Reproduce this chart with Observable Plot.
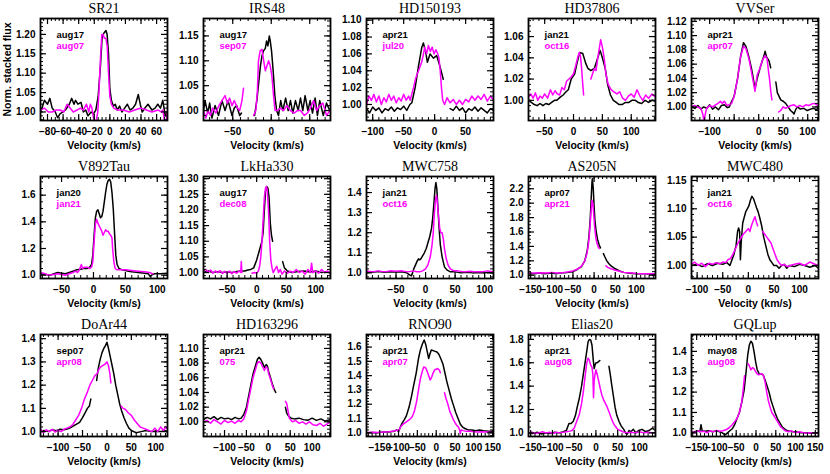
<!DOCTYPE html>
<html><head><meta charset="utf-8">
<script src="https://cdn.jsdelivr.net/npm/d3@7"></script>
<script src="https://cdn.jsdelivr.net/npm/@observablehq/plot@0.6"></script>
<style>
body{margin:0;background:#fff;}
#wrap{position:relative;width:830px;height:474px;overflow:hidden;background:#fff;}
#wrap svg{position:absolute;}
</style></head><body><div id="wrap"></div>
<script>
// ---------- data ----------
const names = ["SR21","IRS48","HD150193","HD37806","VVSer","V892Tau","LkHa330","MWC758","AS205N","MWC480","DoAr44","HD163296","RNO90","Elias20","GQLup"];
const epochBlack   = ["aug17","aug17","apr21","jan21","apr21","jan20","aug17","jan21","apr07","jan21","sep07","apr21","apr21","apr21","may08"];
const epochMagenta = ["aug07","sep07","jul20","oct16","apr07","jan21","dec08","oct16","apr21","oct16","apr08","075","apr07","aug08","aug08"];

const xDomains = [[-89,74],[-88,77],[-110,95],[-78,142],[-137,122],[-83,116],[-90,125],[-100,115],[-155,145],[-111,137],[-136,124],[-148,142],[-185,152],[-155,137],[-163,158]];
const yDomains = [[0.978,1.241],[0.98,1.185],[0.981,1.102],[0.981,1.077],[0.981,1.124],[0.975,1.74],[0.981,1.307],[0.972,1.48],[0.955,2.37],[0.977,1.157],[0.979,1.418],[0.98,1.119],[0.974,1.688],[0.969,1.842],[0.982,1.483]];

const xTicksA = [-80,-60,-40,-20,0,20,40,60];
const xTicksB = [-50,0,50];
const xTicksC = [-100,-50,0,50];
const xTicksD = [-50,0,50,100];
const xTicksE = [-100,-50,0,50,100];
const xTicksF = [-150,-100,-50,0,50,100];
const xTicksG = [-150,-100,-50,0,50,100,150];
const xLabelsVV = [-100,0,50,100];

const yt005 = ["1.00","1.05","1.10","1.15","1.20"];
const yt005b = ["1.00","1.05","1.10","1.15"];
const yt002 = ["1.00","1.02","1.04","1.06","1.08","1.10"];
const yt002b = ["1.00","1.02","1.04","1.06"];
const yt002c = ["1.00","1.02","1.04","1.06","1.08","1.10","1.12"];
const yt02 = ["1.0","1.2","1.4","1.6"];
const yt005c = ["1.00","1.05","1.10","1.15","1.20","1.25","1.30"];
const yt01 = ["1.0","1.1","1.2","1.3","1.4"];
const yt02b = ["1.0","1.2","1.4","1.6","1.8","2.0","2.2"];
const yt01b = ["1.0","1.1","1.2","1.3","1.4","1.5","1.6"];
const yt02c = ["1.0","1.2","1.4","1.6","1.8"];

// spectra: [velocity km/s, normalized flux]; null = gap
const SR21_k = [[-89,1.0],[-87,1.01],[-84,1.03],[-80,1.02],[-77,1.035],[-74,1.01],[-70,1.0],[-67,0.985],[-64,0.995],[-60,1.0],[-57,1.005],[-52,1.02],[-49,1.035],[-46,1.02],[-44,1.03],[-41,1.02],[-37,1.025],[-34,1.0],[-31,1.005],[-28,0.99],[-24,1.0],[-21,0.995],[-18,1.005],[-15,1.04],[-12,1.12],[-10,1.19],[-8.5,1.2],[-7,1.205],[-5,1.21],[-3.5,1.2],[-1.7,1.15],[0,1.06],[2,1.03],[4.5,1.015],[7,1.02],[9.5,1.005],[12.5,1.015],[15.5,1.0],[19,1.01],[22.5,1.02],[26,1.005],[29.5,1.01],[33,1.02],[36.5,1.045],[39,1.02],[41.5,1.0],[45,1.01],[49,1.02],[54,1.005],[58,1.01],[61.5,1.02],[65,1.01],[68,1.03],[71,0.99],[74,1.0]];
const SR21_m = [[-89,1.005],[-84,1.01],[-79,1.0],[-74,1.0],[-69,1.005],[-64,1.005],[-59,1.0],[-55,1.02],[-51,1.01],[-47,1.0],[-42,1.005],[-38,1.01],[-34,1.005],[-30,1.02],[-27,1.0],[-25,1.02],[-23,1.01],[-21,0.985],[-18,0.97],[-15.5,1.0],[-14,1.05],[-12,1.14],[-10.3,1.2],[-8.6,1.2],[-7,1.19],[-5,1.19],[-3.4,1.17],[-1.7,1.1],[0,1.04],[2,1.02],[5,1.01],[10,1.005],[17,1.005],[25,1.0],[32,1.005],[40,1.01],[47,1.005],[54,1.0],[62,1.005],[66,1.0],[68,1.005],[70,0.98],[72,0.975],[74,1.0]];

const IRS48_k = [[-88,1.0],[-86,1.02],[-82.5,0.995],[-80,1.015],[-77,0.985],[-73,1.01],[-68.5,0.99],[-64,1.02],[-60,1.0],[-56,1.02],[-51,0.99],[-48,1.005],[-45,1.01],[-41,0.99],[-38.7,0.995],[-37,null],[-22,null],[-21.7,0.99],[-18.7,1.02],[-16,1.06],[-14,1.09],[-12,1.11],[-10,1.12],[-7.7,1.125],[-6,1.14],[-4.3,1.13],[-2.5,1.15],[-1.3,1.14],[0.4,1.12],[2.5,1.08],[4.7,1.03],[7,1.0],[9.4,0.99],[12.3,1.02],[15,1.0],[18.7,1.025],[22,1.0],[25,1.02],[28,0.995],[31.5,1.02],[35,1.0],[38,1.025],[41,1.0],[44,1.03],[47.6,1.0],[50.6,1.02],[53.6,0.995],[57,1.025],[60,0.99],[63,1.02],[67.6,0.99],[71.8,1.015],[76,1.0]];
const IRS48_m = [[-88,1.0],[-85,0.985],[-82,1.0],[-79,0.99],[-76,1.005],[-72,0.995],[-68,1.01],[-64,1.02],[-60,1.03],[-57,1.015],[-54,1.025],[-51,1.01],[-48,1.02],[-44,1.005],[-41,1.0],[-38,1.02],[-36,1.045],[-35,null],[-24,null],[-23,0.99],[-20,1.0],[-18,1.04],[-16.6,1.1],[-14.4,1.12],[-12,1.123],[-9.8,1.1],[-7.7,1.08],[-5.5,1.09],[-3.4,1.1],[-1.3,1.09],[0.8,1.07],[3,1.03],[5,1.0],[8,1.0],[12,1.005],[16,1.0],[20,1.01],[25,1.0],[30,0.995],[34,1.0],[38,1.0],[43,0.99],[47,0.995],[51,1.005],[55,1.02],[59,1.0],[63,1.01],[67,1.015],[72,0.99],[76,1.0]];

const HD150193_k = [[-110,0.995],[-105,0.99],[-100,0.997],[-95,0.993],[-90,0.996],[-85,0.99],[-80,0.995],[-75,0.993],[-70,0.997],[-65,0.992],[-60,0.996],[-55,0.994],[-50,0.998],[-45,0.993],[-40,1.0],[-36.8,1.002],[-31.5,1.02],[-26.2,1.045],[-20.7,1.068],[-18.2,1.073],[-14.4,1.062],[-11.7,1.05],[-7.4,1.06],[-2.1,1.055],[3.3,1.058],[8.6,1.045],[13.9,1.03],[14.5,null],[24,null],[25,0.995],[30,0.993],[35,0.998],[40,0.993],[45,0.996],[50,0.99],[55,0.995],[60,0.993],[65,0.997],[70,0.992],[75,0.996],[80,0.993],[85,0.99],[90,0.995],[95,0.993]];
const HD150193_m = [[-110,1.0],[-106,1.01],[-102,1.005],[-98,1.012],[-94,1.003],[-90,1.01],[-86,1.0],[-82,1.008],[-78,1.003],[-74,1.012],[-70,1.005],[-66,1.01],[-62,1.002],[-58,1.008],[-54,1.004],[-50,1.012],[-46,1.005],[-42,1.01],[-39.5,1.005],[-36,1.015],[-34,1.02],[-31,1.03],[-28.8,1.035],[-26,1.04],[-23.5,1.045],[-21,1.05],[-18,1.06],[-16,1.068],[-13,1.06],[-10,1.07],[-7,1.063],[-4,1.068],[-1,1.06],[2,1.065],[5,1.06],[7,1.055],[9,1.04],[11,1.02],[13,1.005],[16,1.0],[20,1.008],[25,1.002],[30,1.006],[35,1.0],[40,1.005],[45,1.0],[50,1.006],[55,1.003],[60,1.01],[65,1.005],[70,1.01],[75,1.006],[80,1.012],[85,1.004],[90,1.01],[95,1.005]];

const HD37806_k = [[-78,1.0],[-73,0.998],[-68,0.996],[-63,0.995],[-58,0.997],[-53,0.995],[-48,0.997],[-43,0.996],[-38,0.998],[-33,1.0],[-29,1.0],[-23,1.003],[-18,1.005],[-13,1.008],[-9,1.01],[-4,1.02],[2,1.025],[6,1.035],[10.6,1.045],[16,1.044],[21,1.035],[25,1.03],[30,1.028],[36,1.03],[42,1.04],[46,1.047],[50,1.04],[55,1.03],[59,1.015],[64,1.005],[69,1.0],[74,0.998],[79,0.996],[84,0.996],[90,0.998],[96,0.998],[101,1.0],[107,1.0],[112,0.998],[118,0.997],[124,1.0],[130,0.998],[136,1.0],[142,0.999]];
const HD37806_m = [[-78,1.003],[-74,1.006],[-70,1.002],[-66,1.007],[-62,1.0],[-58,1.004],[-54,1.002],[-50,1.006],[-45,1.002],[-40,1.01],[-36,1.005],[-32,1.009],[-28,1.006],[-24,1.005],[-20,1.012],[-16,1.01],[-12,1.018],[-8,1.02],[-4,1.022],[0,1.025],[4,1.033],[7,1.04],[10,1.045],[12,1.042],[14,1.03],[16,1.015],[17.5,1.005],[18,null],[29,null],[30,1.02],[33,1.025],[36,1.03],[39,1.028],[42,1.04],[45,1.05],[47,1.057],[50,1.05],[53,1.04],[56,1.025],[60,1.015],[65,1.01],[70,1.008],[75,1.006],[80,1.008],[85,1.002],[90,1.0],[95,1.004],[100,1.006],[105,1.003],[110,1.01],[115,1.004],[120,1.0],[125,1.005],[130,1.002],[136,1.006],[142,1.003]];

const VVSer_k = [[-137,1.0],[-130,0.998],[-124,1.002],[-118,0.997],[-112,1.0],[-106,0.998],[-100,1.003],[-94,0.997],[-88,1.0],[-82,0.996],[-76,1.002],[-70,1.003],[-64,0.999],[-60,1.0],[-57,1.005],[-50,1.015],[-43,1.04],[-37,1.07],[-31,1.09],[-26,1.085],[-20,1.07],[-15,1.055],[-11,1.04],[-7.5,1.025],[-3,1.04],[3,1.055],[7.5,1.065],[11,1.072],[13,1.078],[16,1.07],[21,1.065],[24.5,1.055],[25,null],[34,null],[35,1.035],[38,1.02],[45,1.01],[50,1.008],[55,1.005],[60,1.0],[65,0.995],[70,0.992],[72,0.99],[76,0.997],[79,1.0],[85,0.997],[92,0.998],[99,0.995],[106,0.997],[113,0.998],[118,0.996],[122,1.0]];
const VVSer_m = [[-137,1.0],[-131,1.002],[-125,1.0],[-118,0.998],[-114,0.99],[-111.5,0.98],[-109,0.99],[-106,0.998],[-100,1.002],[-94,1.0],[-88,1.003],[-83,1.005],[-78,1.008],[-74,1.005],[-70,1.008],[-65,1.002],[-60,1.003],[-55,1.005],[-50,1.015],[-43,1.04],[-37,1.07],[-31,1.085],[-26,1.082],[-20,1.068],[-15,1.05],[-11,1.035],[-7.5,1.022],[-3,1.045],[3,1.055],[7.5,1.065],[13,1.072],[17,1.068],[20,1.05],[22,1.04],[25,1.02],[27,1.01],[28,null],[40,null],[41,0.993],[45,0.995],[50,1.0],[55,0.998],[60,1.0],[66,1.002],[72,1.003],[78,1.0],[84,1.002],[90,1.0],[96,1.003],[102,1.002],[108,1.004],[114,1.005],[118,1.003],[122,1.002]];

const V892Tau_k = [[-83,1.01],[-75,1.005],[-68,1.0],[-62,1.01],[-56,1.02],[-50,1.015],[-44,1.01],[-38,1.02],[-32,1.03],[-26,1.04],[-20,1.045],[-16,1.05],[-10,1.05],[-6,1.06],[-3,1.08],[-1,1.15],[1,1.3],[3,1.43],[5,1.48],[7,1.49],[9,1.46],[11,1.43],[13,1.44],[15,1.48],[17,1.55],[19,1.62],[21,1.68],[23,1.71],[25,1.72],[27,1.7],[29,1.62],[31,1.5],[33,1.32],[35,1.15],[37,1.08],[40,1.05],[45,1.04],[50,1.035],[55,1.03],[60,1.025],[70,1.02],[80,1.015],[86,1.01],[89,0.99],[91,1.0],[95,1.01],[105,1.01],[116,1.015]];
const V892Tau_m = [[-83,1.02],[-76,1.01],[-70,1.0],[-63,1.005],[-56,1.01],[-50,1.005],[-44,1.0],[-38,1.01],[-32,1.02],[-28,1.03],[-25,1.02],[-22,1.04],[-19,1.08],[-17,1.05],[-14,1.06],[-10,1.06],[-6,1.05],[-3,1.06],[-1,1.1],[1,1.25],[3,1.38],[5,1.42],[7,1.39],[9,1.37],[11,1.35],[13,1.33],[15,1.3],[17,1.32],[19,1.34],[21,1.33],[23,1.33],[25,1.31],[27,1.3],[29,1.28],[30,1.2],[32,1.1],[34,1.05],[37,1.04],[42,1.04],[50,1.04],[60,1.035],[70,1.03],[80,1.025],[88,1.02],[93,1.01]];

const LkHa330_k = [[-90,1.0],[-82,1.005],[-74,1.0],[-66,1.003],[-58,1.0],[-50,1.002],[-42,1.0],[-34,1.003],[-26,1.005],[-20,1.005],[-15,1.008],[-10,1.01],[-5,1.015],[0,1.04],[3,1.06],[6,1.08],[9,1.1],[11,1.13],[13,1.2],[15,1.26],[17,1.275],[19,1.27],[21,1.24],[23,1.16],[25,1.12],[27,1.1],[28,null],[43,null],[44,1.035],[47,1.015],[52,1.005],[60,1.0],[70,1.003],[80,1.005],[90,1.002],[100,1.005],[110,1.0],[118,1.003],[125,1.0]];
const LkHa330_m = [[-90,1.005],[-86,1.01],[-82,1.0],[-78,1.008],[-74,0.998],[-70,1.005],[-66,1.0],[-62,1.006],[-58,0.997],[-54,1.004],[-50,0.998],[-46,1.005],[-42,0.996],[-38,1.003],[-34,0.998],[-30,1.005],[-27,1.0],[-26,1.035],[-25,1.0],[-24,null],[-9,null],[-8,0.998],[-4,1.0],[0,0.998],[3,1.005],[5,1.02],[7,1.05],[9,1.1],[11,1.17],[13,1.24],[15,1.27],[16.5,1.275],[18,1.26],[20,1.2],[22,1.1],[24,1.04],[26,1.015],[28,1.0],[31,1.01],[34,1.02],[37,1.0],[40,1.01],[43,0.995],[47,1.005],[52,0.998],[57,1.004],[62,1.0],[67,1.01],[72,1.0],[77,1.005],[82,0.995],[87,1.01],[91,1.0],[93,1.03],[95,1.0],[100,1.005],[105,0.998],[110,1.01],[115,1.0],[120,1.005],[125,0.995]];

const MWC758_k = [[-100,1.005],[-90,1.003],[-80,1.007],[-70,1.003],[-60,1.006],[-50,1.004],[-40,1.006],[-32,1.0],[-27,0.99],[-24,0.985],[-22,1.0],[-20,1.02],[-17,1.04],[-14,1.06],[-12,1.07],[-10,1.065],[-8,1.07],[-5,1.085],[-2,1.1],[1,1.12],[4,1.15],[7,1.18],[10,1.22],[12,1.27],[14,1.34],[16,1.42],[17.5,1.45],[19,1.42],[21,1.32],[23,1.22],[25,1.14],[28,1.08],[32,1.03],[36,1.015],[42,1.005],[50,1.005],[60,1.0],[70,1.003],[80,1.0],[90,1.002],[100,1.0],[108,1.003],[115,1.0]];
const MWC758_m = [[-100,1.01],[-90,1.005],[-80,1.01],[-70,1.005],[-60,1.01],[-50,1.008],[-40,1.01],[-30,1.005],[-20,1.01],[-15,1.005],[-10,1.005],[-5,1.01],[0,1.02],[4,1.04],[8,1.08],[11,1.14],[13,1.2],[15,1.3],[17,1.37],[18.5,1.385],[20,1.35],[22,1.28],[24,1.22],[26,1.2],[28,1.2],[30,1.17],[32,1.12],[35,1.07],[38,1.04],[42,1.02],[48,1.01],[55,1.01],[65,1.005],[75,1.008],[85,1.005],[95,1.005],[105,1.01],[115,1.005]];

const AS205N_k = [[-155,1.02],[-140,1.02],[-130,1.03],[-120,1.02],[-110,1.025],[-100,1.03],[-90,1.02],[-80,1.03],[-70,1.035],[-60,1.04],[-50,1.05],[-40,1.08],[-30,1.12],[-22,1.2],[-16,1.35],[-12,1.55],[-9,1.8],[-7,2.05],[-5,2.3],[-4,2.34],[-2,2.2],[0,1.95],[2,1.75],[5,1.6],[8,1.5],[12,1.42],[15,1.38],[16,null],[21,null],[22,1.3],[25,1.26],[30,1.2],[35,1.16],[40,1.13],[50,1.09],[60,1.06],[70,1.04],[80,1.03],[90,1.025],[100,1.02],[120,1.02],[145,1.015]];
const AS205N_m = [[-155,1.03],[-140,1.03],[-125,1.035],[-110,1.03],[-100,1.04],[-90,1.03],[-80,1.03],[-70,1.04],[-60,1.05],[-50,1.06],[-42,1.08],[-35,1.1],[-28,1.14],[-22,1.2],[-17,1.3],[-13,1.45],[-10,1.65],[-7,1.9],[-5,2.04],[-3,2.0],[-1,1.85],[1,1.68],[4,1.52],[7,1.44],[10,1.39],[12,1.37],[13,null],[27,null],[28,1.13],[32,1.11],[40,1.09],[50,1.07],[60,1.055],[70,1.04],[80,1.035],[90,1.03],[100,1.025],[120,1.02],[145,1.02]];

const MWC480_k = [[-111,1.0],[-100,1.002],[-90,0.998],[-80,1.003],[-70,1.0],[-60,1.004],[-50,1.002],[-42,1.005],[-36,1.0],[-32,1.01],[-28,1.02],[-24,1.035],[-21,1.06],[-19,1.066],[-17,1.06],[-15.5,1.01],[-14,1.04],[-11,1.075],[-8,1.085],[-5,1.095],[-2,1.1],[1,1.105],[4,1.115],[7,1.122],[10,1.118],[13,1.11],[16,1.102],[19,1.095],[22,1.085],[26,1.07],[30,1.05],[34,1.035],[38,1.02],[42,1.01],[46,1.005],[50,1.0],[55,1.0],[60,0.995],[65,1.0],[70,1.002],[75,0.995],[80,1.0],[90,0.998],[100,1.002],[110,1.0],[120,0.997],[130,1.0],[137,0.995]];
const MWC480_m = [[-111,1.002],[-105,1.006],[-98,1.0],[-91,1.004],[-84,0.998],[-77,1.004],[-70,1.002],[-63,1.005],[-56,1.003],[-50,1.006],[-44,1.005],[-40,1.01],[-35,1.012],[-30,1.02],[-25,1.03],[-20,1.04],[-15,1.048],[-10,1.055],[-5,1.06],[0,1.065],[3,1.06],[6,1.07],[10,1.08],[13,1.086],[16,1.076],[18,1.07],[19,null],[27,null],[28,1.06],[32,1.055],[36,1.05],[40,1.045],[44,1.04],[48,1.03],[52,1.02],[56,1.01],[60,1.005],[65,1.0],[70,1.002],[76,0.998],[82,1.0],[90,1.002],[100,1.004],[110,1.0],[120,1.006],[128,1.003],[137,1.0]];

const DoAr44_k = [[-136,1.0],[-128,1.005],[-120,1.0],[-112,1.008],[-104,1.004],[-96,1.01],[-88,1.008],[-80,1.012],[-72,1.02],[-64,1.03],[-56,1.04],[-50,1.06],[-45,1.08],[-40,1.1],[-36,1.11],[-33,1.14],[-32,null],[-22,null],[-21,1.22],[-18,1.27],[-14,1.31],[-10,1.34],[-6,1.36],[-3,1.37],[0,1.385],[3,1.36],[6,1.33],[10,1.29],[14,1.25],[18,1.2],[22,1.16],[26,1.12],[30,1.09],[35,1.06],[40,1.035],[45,1.015],[50,1.005],[55,1.0],[60,0.995],[70,1.0],[80,1.005],[90,1.0],[100,1.002],[110,1.0],[118,1.005],[124,1.0]];
const DoAr44_m = [[-136,1.01],[-130,0.995],[-124,1.008],[-118,1.0],[-112,1.01],[-106,0.998],[-100,1.006],[-94,1.0],[-88,1.01],[-82,1.015],[-76,1.02],[-70,1.03],[-64,1.05],[-58,1.07],[-52,1.1],[-46,1.14],[-40,1.17],[-35,1.2],[-30,1.22],[-25,1.24],[-20,1.25],[-16,1.27],[-12,1.28],[-8,1.285],[-4,1.29],[0,1.3],[3,1.285],[6,1.25],[8,1.21],[9,null],[28,null],[29,1.11],[33,1.1],[38,1.095],[44,1.08],[50,1.07],[56,1.05],[62,1.035],[68,1.02],[74,1.015],[80,1.01],[86,1.005],[92,1.0],[98,1.015],[104,1.0],[110,1.02],[116,1.005],[120,1.02],[124,1.01]];

const HD163296_k = [[-148,1.003],[-140,1.006],[-132,1.004],[-124,1.007],[-116,1.003],[-108,1.006],[-100,1.004],[-92,1.005],[-84,1.003],[-76,1.006],[-68,1.004],[-62,1.005],[-56,1.01],[-50,1.02],[-45,1.035],[-40,1.05],[-35,1.065],[-30,1.075],[-25,1.085],[-21,1.088],[-17,1.085],[-13,1.08],[-9,1.074],[-5,1.078],[-2,1.076],[1,1.068],[5,1.06],[9,1.052],[13,1.045],[17,1.04],[18,null],[38,null],[39,1.02],[42,1.012],[46,1.008],[52,1.005],[60,1.004],[70,1.005],[80,1.003],[90,1.002],[100,1.005],[110,1.002],[120,1.004],[130,1.001],[142,1.003]];
const HD163296_m = [[-148,1.0],[-140,1.002],[-132,0.998],[-124,1.003],[-116,1.0],[-108,0.997],[-100,1.002],[-92,0.999],[-84,1.001],[-76,0.998],[-68,1.002],[-62,1.0],[-56,1.004],[-50,1.015],[-45,1.03],[-40,1.045],[-35,1.06],[-30,1.07],[-25,1.08],[-21,1.082],[-17,1.08],[-13,1.075],[-9,1.07],[-5,1.075],[-2,1.073],[1,1.065],[5,1.058],[9,1.05],[12,1.045],[13,null],[38,null],[39,1.028],[42,1.025],[45,1.015],[48,1.005],[55,1.0],[62,1.002],[70,0.998],[78,1.0],[86,0.997],[94,1.0],[102,0.996],[110,0.995],[118,0.998],[126,0.994],[134,0.997],[142,1.0]];

const RNO90_k = [[-185,1.0],[-170,1.002],[-155,1.0],[-140,1.005],[-125,1.005],[-112,1.01],[-105,1.02],[-100,1.01],[-92,1.06],[-85,1.09],[-79,1.12],[-72,1.18],[-66,1.25],[-60,1.33],[-53,1.42],[-47,1.52],[-42,1.58],[-37,1.62],[-32,1.65],[-28,1.62],[-24,1.57],[-20,1.52],[-17,1.55],[-13,1.58],[-8,1.575],[-3,1.57],[2,1.565],[7,1.55],[12,1.52],[18,1.48],[23,1.42],[28,1.36],[34,1.3],[40,1.24],[46,1.19],[52,1.14],[58,1.1],[64,1.06],[70,1.04],[76,1.03],[85,1.02],[95,1.02],[105,1.015],[115,1.02],[125,1.015],[138,1.01],[152,1.01]];
const RNO90_m = [[-185,1.0],[-170,1.003],[-155,1.002],[-140,1.005],[-125,1.008],[-112,1.012],[-104,1.02],[-100,1.01],[-95,1.04],[-88,1.06],[-80,1.075],[-72,1.09],[-64,1.11],[-58,1.15],[-52,1.22],[-47,1.3],[-42,1.38],[-37,1.43],[-33,1.46],[-28,1.455],[-24,1.43],[-20,1.4],[-16,1.37],[-12,1.39],[-8,1.42],[-4,1.44],[0,1.445],[4,1.45],[8,1.44],[11,1.42],[12,null],[21,null],[22,1.28],[26,1.24],[31,1.2],[36,1.15],[41,1.12],[46,1.09],[50,1.07],[55,1.05],[59,1.04],[62,1.02],[64,0.995],[66,1.02],[72,1.015],[80,1.01],[90,1.01],[100,1.008],[110,1.005],[120,1.008],[135,1.005],[152,1.0]];

const Elias20_k = [[-155,1.0],[-145,0.995],[-135,1.005],[-125,0.99],[-115,1.0],[-105,0.995],[-95,1.005],[-85,1.0],[-75,1.01],[-68,1.02],[-62,1.08],[-57,1.08],[-52,1.1],[-47,1.15],[-43,1.22],[-38,1.3],[-33,1.4],[-29,1.5],[-25,1.6],[-21,1.7],[-18,1.78],[-15,1.8],[-12,1.795],[-9,1.75],[-6,1.62],[-4,1.55],[-2,1.58],[0,1.6],[3,1.6],[6,1.61],[9,1.62],[10,null],[29,null],[30,1.57],[33,1.5],[36,1.42],[40,1.32],[44,1.22],[48,1.15],[53,1.1],[58,1.06],[64,1.03],[68,1.0],[72,0.99],[76,1.02],[80,1.01],[86,1.03],[92,1.0],[98,1.02],[106,1.03],[114,1.01],[122,1.02],[130,1.04],[137,1.02]];
const Elias20_m = [[-155,1.0],[-147,1.005],[-139,0.995],[-131,1.0],[-123,1.01],[-115,1.0],[-107,1.005],[-99,0.995],[-91,1.005],[-83,1.0],[-75,1.005],[-67,1.01],[-60,1.015],[-55,1.02],[-50,1.04],[-44,1.1],[-38,1.16],[-33,1.25],[-29,1.35],[-25,1.48],[-21,1.6],[-18,1.64],[-15,1.62],[-12,1.58],[-9,1.56],[-7,1.5],[-5.5,1.3],[-4,1.45],[-2,1.5],[0,1.54],[3,1.5],[6,1.45],[10,1.38],[14,1.32],[18,1.28],[22,1.25],[26,1.22],[30,1.18],[34,1.14],[38,1.1],[42,1.07],[46,1.05],[50,1.03],[56,1.02],[62,1.01],[70,1.0],[80,1.005],[90,1.0],[100,1.01],[110,1.0],[120,1.005],[130,1.0],[137,1.005]];

const GQLup_k = [[-163,1.0],[-155,1.005],[-148,1.01],[-142,1.005],[-139,1.04],[-136,1.01],[-128,1.008],[-120,1.01],[-110,1.005],[-100,1.01],[-92,1.005],[-85,1.0],[-78,0.99],[-72,1.0],[-66,1.01],[-60,1.02],[-54,1.04],[-48,1.07],[-42,1.1],[-36,1.15],[-30,1.21],[-25,1.3],[-21,1.38],[-17,1.43],[-13,1.45],[-9,1.44],[-5,1.4],[-1,1.35],[3,1.31],[8,1.29],[13,1.29],[18,1.285],[23,1.26],[28,1.23],[33,1.2],[38,1.16],[43,1.13],[48,1.1],[54,1.07],[60,1.05],[66,1.03],[72,1.02],[80,1.01],[90,1.005],[100,1.005],[112,1.0],[125,1.0],[140,0.998],[158,1.0]];
const GQLup_m = [[-163,1.005],[-155,1.0],[-147,1.01],[-140,1.005],[-132,1.008],[-124,1.0],[-116,1.01],[-108,1.005],[-100,1.012],[-92,1.008],[-84,1.01],[-76,1.015],[-68,1.025],[-60,1.04],[-54,1.055],[-48,1.07],[-42,1.1],[-37,1.14],[-33,1.2],[-29,1.28],[-28,null],[-21,null],[-20,1.34],[-17,1.33],[-13,1.31],[-9,1.32],[-5,1.315],[-1,1.3],[3,1.29],[7,1.285],[11,1.29],[15,1.29],[19,1.28],[23,1.25],[27,1.2],[31,1.16],[35,1.13],[40,1.1],[45,1.085],[50,1.07],[56,1.05],[62,1.03],[68,1.02],[74,1.01],[82,1.005],[90,1.01],[100,1.0],[110,1.005],[120,1.0],[130,0.998],[140,1.0],[150,1.0],[158,0.998]];

const blackSpectra = [SR21_k,IRS48_k,HD150193_k,HD37806_k,VVSer_k,V892Tau_k,LkHa330_k,MWC758_k,AS205N_k,MWC480_k,DoAr44_k,HD163296_k,RNO90_k,Elias20_k,GQLup_k];
const magentaSpectra = [SR21_m,IRS48_m,HD150193_m,HD37806_m,VVSer_m,V892Tau_m,LkHa330_m,MWC758_m,AS205N_m,MWC480_m,DoAr44_m,HD163296_m,RNO90_m,Elias20_m,GQLup_m];
const xTicks = [xTicksA,xTicksB,xTicksC,xTicksD,xTicksE,xTicksD,xTicksD,xTicksD,xTicksF,xTicksE,xTicksE,xTicksE,xTicksG,xTicksF,xTicksG];
const xLabels = [xTicksA,xTicksB,xTicksC,xTicksD,xLabelsVV,xTicksD,xTicksD,xTicksD,xTicksF,xTicksE,xTicksE,xTicksE,xTicksG,xTicksF,xTicksG];
const yTicks = [yt005,yt005b,yt002,yt002b,yt002c,yt02,yt005c,yt01,yt02b,yt005b,yt01,yt002,yt01b,yt02c,yt01];

// ---------- layout / style ----------
const xMinorStep = [5,10,10,10,10,10,10,10,10,10,10,10,10,10,10];
const yMinorStep = [0.01,0.01,0.005,0.005,0.005,0.05,0.01,0.02,0.05,0.01,0.02,0.005,0.02,0.05,0.02];
const FL = [40,203,366,528,691], FT = [18,176,334];
const FW = 127, FH = 102, ML = 40, MR = 3, MT = 18, MB = 38;
const SANS = '"Liberation Sans", Arial, Helvetica, sans-serif';
const SERIF = '"Liberation Serif", "Times New Roman", serif';
const MAG = "#ff00ff";
const fmtX = v => (v < 0 ? "\u2212" : "") + Math.abs(v);
function minors(dom, step) {
  const out = [];
  for (let k = Math.ceil(dom[0] / step - 1e-9); k * step <= dom[1] + 1e-9; k++) out.push(+(k * step).toFixed(6));
  return out;
}
const wrap = document.getElementById("wrap");
names.forEach((name, i) => {
  const col = i % 5, row = Math.floor(i / 5);
  const xd = xDomains[i], yd = yDomains[i];
  const xMaj = xTicks[i], yMaj = yTicks[i].map(Number);
  const xMin = minors(xd, xMinorStep[i]), yMin = minors(yd, yMinorStep[i]);
  const bold = {fontSize: 10, fontWeight: "bold", fontFamily: SANS, lineAnchor: "middle"};
  const marks = [
    Plot.line(blackSpectra[i], {x: d => d[0], y: d => d[1], stroke: "black", strokeWidth: 1.5, clip: true}),
    Plot.line(magentaSpectra[i], {x: d => d[0], y: d => d[1], stroke: MAG, strokeWidth: 1.5, clip: true}),
    Plot.ruleX(xMin, {x: d => d, insetTop: FH - 3, strokeWidth: 1}),
    Plot.ruleX(xMin, {x: d => d, insetBottom: FH - 3, strokeWidth: 1}),
    Plot.ruleX(xMaj, {x: d => d, insetTop: FH - 6, strokeWidth: 1.2}),
    Plot.ruleX(xMaj, {x: d => d, insetBottom: FH - 6, strokeWidth: 1.2}),
    Plot.ruleY(yMin, {y: d => d, insetRight: FW - 3, strokeWidth: 1}),
    Plot.ruleY(yMin, {y: d => d, insetLeft: FW - 3, strokeWidth: 1}),
    Plot.ruleY(yMaj, {y: d => d, insetRight: FW - 6, strokeWidth: 1.2}),
    Plot.ruleY(yMaj, {y: d => d, insetLeft: FW - 6, strokeWidth: 1.2}),
    Plot.frame({stroke: "black", strokeWidth: 1.8}),
    Plot.text(xLabels[i], {x: d => d, text: d => fmtX(d), frameAnchor: "bottom", dy: 11, ...bold}),
    Plot.text(yTicks[i], {y: d => +d, text: d => d, frameAnchor: "left", textAnchor: "end", dx: -5, ...bold}),
    Plot.text(["Velocity (km/s)"], {text: d => d, frameAnchor: "bottom", dy: 25, fontSize: 10.5, fontWeight: "bold", fontFamily: SANS, lineAnchor: "middle"}),
    Plot.text([name], {text: d => d, frameAnchor: "top", dy: -10, fontSize: 14, fontFamily: SERIF, lineAnchor: "middle"}),
    Plot.text([epochBlack[i]], {text: d => d, frameAnchor: "top-left", dx: 16, dy: 16, textAnchor: "start", lineAnchor: "middle", fill: "black", fontSize: 9.5, fontWeight: "bold", fontFamily: SANS}),
    Plot.text([epochMagenta[i]], {text: d => d, frameAnchor: "top-left", dx: 16, dy: 27, textAnchor: "start", lineAnchor: "middle", fill: MAG, fontSize: 9.5, fontWeight: "bold", fontFamily: SANS})
  ];
  if (i === 0) marks.push(Plot.text(["Norm. stacked flux"], {text: d => d, frameAnchor: "left", dx: -33, rotate: -90, textAnchor: "middle", lineAnchor: "middle", fontSize: 10.5, fontWeight: "bold", fontFamily: SANS}));
  const svg = Plot.plot({
    width: ML + FW + MR, height: MT + FH + MB,
    marginLeft: ML, marginRight: MR, marginTop: MT, marginBottom: MB,
    x: {domain: xd, axis: null}, y: {domain: yd, axis: null},
    style: {background: "transparent", overflow: "visible", fontFamily: SANS},
    marks
  });
  svg.style.left = (FL[col] - ML) + "px";
  svg.style.top = (FT[row] - MT) + "px";
  wrap.appendChild(svg);
});
</script></body></html>
